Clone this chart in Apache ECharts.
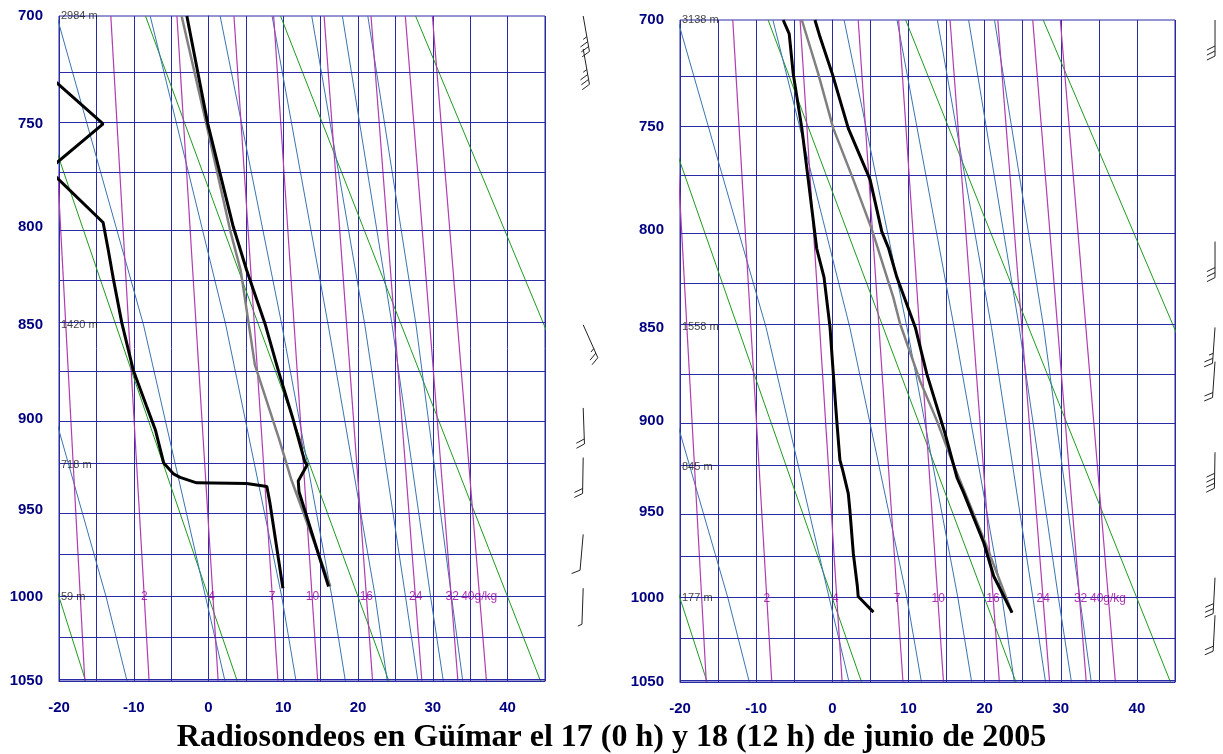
<!DOCTYPE html>
<html><head><meta charset="utf-8">
<script src="https://cdn.jsdelivr.net/npm/echarts@6/dist/echarts.min.js"></script>
<style>html,body{margin:0;padding:0;background:#fff}#c{width:1223px;height:754px}</style>
</head><body><div id="c"></div>
<script>
// ---------------- DATA ----------------
const PRESSURE_LABELS = [700, 750, 800, 850, 900, 950, 1000, 1050];
const PRESSURE_LINES = [700, 725, 750, 775, 800, 825, 850, 875, 900, 925, 950, 975, 1000, 1025, 1050];

// dry adiabats (green): temperature at 700 hPa and at 1050 hPa
const DRY_T700  = [-44.55, -26.49, -8.43, 9.63, 27.69, 45.75];
const DRY_T1050 = [-16.44, 3.84, 24.12, 44.40, 64.68, 84.96];

// moist adiabats (blue): temperatures at the pressures below
const MOIST_P = [700, 850, 1000, 1050];
const MOIST_T = [
  [-36.5, -24.0, -13.7, -10.9],
  [-20.3, -8.7, -0.4, 2.2],
  [-7.8, 2.3, 9.8, 11.7],
  [1.55, 9.8, 16.5, 18.3],
  [8.5, 16.0, 22.3, 23.9],
  [13.8, 20.9, 26.35, 28.0],
  [17.9, 24.55, 29.7, 31.4],
  [21.3, 27.75, 32.5, 34.0]
];

// mixing-ratio lines (magenta), g/kg
const MIX_RATIO = [1, 2, 4, 7, 10, 16, 24, 32, 40];
const MIX_T700  = [-21.30, -13.07, -4.23, 3.40, 8.71, 15.46, 21.73, 26.32, 29.94];
const MIX_T1050 = [-16.55, -7.95, 1.29, 9.28, 14.60, 21.94, 28.53, 33.35, 37.17];
const MIX_LABELS   = ['2', '4', '7', '10', '16', '24', '32', '40g/kg'];
const MIX_LABEL_T  = [-8.6, 0.4, 8.5, 13.9, 21.1, 27.7, 32.6, 36.2];
const MIX_LABEL_P  = 1000;

// ---- Left sounding: 17 June 2005, 00 h ----
const L_TEMP_P = [700, 750, 800, 822, 850, 875, 900, 923.6, 925, 934, 940, 994];
const L_TEMP   = [-2.9, -0.1, 3.3, 5.1, 7.6, 9.4, 11.3, 12.9, 13.2, 12.0, 12.1, 16.05];
const L_DEW_P  = [700, 750, 772, 798, 812, 827, 849, 874, 893, 906, 924, 930, 932, 935, 935.4, 937, 946, 995];
const L_DEW    = [-30.4, -14.1, -21.4, -14.1, -13.4, -12.7, -11.6, -10.05, -8.3, -7.1, -6.0, -4.7, -3.8, -1.6, 5.1, 7.8, 8.2, 9.95];
const L_PARCEL_P = [700, 750, 802, 822, 871, 911, 933, 994];
const L_PARCEL   = [-3.6, -0.3, 2.9, 4.3, 6.2, 9.45, 11.05, 16.3];
const L_HEIGHT_P = [700, 850, 925, 1000];
const L_HEIGHT   = ['2984 m', '1420 m', '718 m', '59 m'];
// wind barbs: pressure of staff origin, direction of staff (deg, clockwise from up), speed (kt)
const L_BARB_P   = [700, 715, 850, 894, 921, 964, 995];
const L_BARB_DIR = [170, 170, 156, 178, 181, 185, 182];
const L_BARB_SPD = [35, 35, 25, 20, 20, 10, 5];

// ---- Right sounding: 18 June 2005, 12 h ----
const R_TEMP_P = [700, 707.9, 724.8, 750.5, 775.3, 801, 809.5, 824, 850, 874.4, 906.6, 931.4, 939, 968, 987.2, 1008.5];
const R_TEMP   = [-2.28, -1.6, 0.0, 2.1, 4.96, 6.5, 7.4, 8.47, 10.9, 12.4, 14.8, 16.4, 17.2, 19.9, 21.2, 23.6];
const R_DEW_P  = [700, 706.3, 724.8, 750.5, 775.3, 809.5, 824, 850, 874.4, 899.4, 921.3, 927, 940, 949, 974, 993, 999, 1008.2];
const R_DEW    = [-6.45, -5.66, -5.13, -4.0, -3.16, -2.05, -1.09, -0.3, 0.13, 0.58, 1.0, 1.37, 2.1, 2.3, 2.76, 3.29, 3.4, 5.4];
const R_PARCEL_P = [700, 724.8, 750.5, 775.3, 800, 834.3, 848.1, 878, 899.4, 919.4, 968, 1008.5];
const R_PARCEL   = [-4.0, -1.84, 0.13, 2.76, 5.2, 8.0, 8.9, 11.5, 13.7, 15.5, 20.1, 23.6];
const R_HEIGHT_P = [700, 850, 925, 1000];
const R_HEIGHT   = ['3138 m', '1558 m', '845 m', '177 m'];
const R_BARB_P   = [700, 806, 850, 868, 917, 988, 1010];
const R_BARB_DIR = [180, 180, 184, 184, 181, 183, 183];
const R_BARB_SPD = [30, 30, 25, 20, 40, 30, 20];

const TITLE = 'Radiosondeos en Güímar el 17 (0 h) y 18 (12 h) de junio de 2005';

// ---------------- CHART ----------------
const KAPPA = 0.286;
const sy = p => Math.pow(p, KAPPA);
const NAVY = '#2a2aa4';
const GREEN = '#1f9a1f';
const BLUE = '#3a74b0';
const MAGENTA = '#b03cb0';
const SANS = 'Liberation Sans, Arial, sans-serif';

const PANELS = [
  { grid: { left: 59, top: 16, width: 486, height: 665 }, barbGrid: { left: 555, top: 16, width: 60, height: 665 }, barbX: 0.47,
    temp: [L_TEMP_P, L_TEMP], dew: [L_DEW_P, L_DEW], parcel: [L_PARCEL_P, L_PARCEL], hp: L_HEIGHT_P, h: L_HEIGHT,
    barb: [L_BARB_P, L_BARB_DIR, L_BARB_SPD] },
  { grid: { left: 680, top: 20, width: 495, height: 662 }, barbGrid: { left: 1185, top: 20, width: 38, height: 662 }, barbX: 0.79,
    temp: [R_TEMP_P, R_TEMP], dew: [R_DEW_P, R_DEW], parcel: [R_PARCEL_P, R_PARCEL], hp: R_HEIGHT_P, h: R_HEIGHT,
    barb: [R_BARB_P, R_BARB_DIR, R_BARB_SPD] }
];

const grids = [], xAxes = [], yAxes = [], series = [];

function lineSeries(gi, pts, color, width, z) {
  series.push({ type: 'line', xAxisIndex: gi, yAxisIndex: gi, data: pts, symbol: 'none', silent: true,
    clip: true, z: z, lineStyle: { color: color, width: width }, animation: false });
}

function renderBarb(params, api) {
  const pt = api.coord([api.value(0), api.value(1)]);
  const d = api.value(2) * Math.PI / 180, spd = api.value(3);
  const L = 36, F = 9, gap = 5;
  const ux = Math.sin(d), uy = -Math.cos(d);
  const nx = -uy, ny = ux;
  const ex = pt[0] + L * ux, ey = pt[1] + L * uy;
  const style = { stroke: '#222', lineWidth: 1 };
  const children = [{ type: 'line', shape: { x1: pt[0], y1: pt[1], x2: ex, y2: ey }, style }];
  let full = Math.floor(spd / 10), half = (spd % 10) >= 5 ? 1 : 0, i = 0;
  for (; i < full; i++) {
    const bx = ex - i * gap * ux, by = ey - i * gap * uy;
    children.push({ type: 'line', shape: { x1: bx, y1: by, x2: bx + F * (0.45 * ux + 0.9 * nx), y2: by + F * (0.45 * uy + 0.9 * ny) }, style });
  }
  if (half) {
    const bx = ex - i * gap * ux, by = ey - i * gap * uy;
    children.push({ type: 'line', shape: { x1: bx, y1: by, x2: bx + F * 0.5 * (0.45 * ux + 0.9 * nx), y2: by + F * 0.5 * (0.45 * uy + 0.9 * ny) }, style });
  }
  return { type: 'group', children };
}

PANELS.forEach((P, k) => {
  const gi = k;
  grids.push(Object.assign({ show: true, borderColor: NAVY, borderWidth: 1, backgroundColor: 'transparent' }, P.grid));
  xAxes.push({ gridIndex: gi, type: 'value', min: -20, max: 45, interval: 5,
    axisLine: { show: true, lineStyle: { color: NAVY } }, axisTick: { show: false },
    axisLabel: { color: '#000080', fontSize: 15, fontWeight: 'bold', fontFamily: SANS, margin: 19,
      formatter: v => (v % 10 === 0 ? String(v) : '') },
    splitLine: { show: true, lineStyle: { color: NAVY, width: 1 } } });
  yAxes.push({ gridIndex: gi, type: 'value', min: sy(700), max: sy(1050), inverse: true,
    axisLine: { show: true, lineStyle: { color: NAVY } }, axisTick: { show: false },
    axisLabel: { color: '#000080', fontSize: 15, fontWeight: 'bold', fontFamily: SANS, margin: 16,
      customValues: PRESSURE_LABELS.map(sy),
      formatter: v => String(Math.round(Math.pow(v, 1 / KAPPA))) },
    splitLine: { show: false } });

  // horizontal isobars
  series.push({ type: 'line', xAxisIndex: gi, yAxisIndex: gi, data: [[-20, sy(700)]], symbol: 'none', silent: true, z: 1,
    lineStyle: { opacity: 0 }, animation: false,
    markLine: { silent: true, symbol: 'none', label: { show: false }, animation: false,
      lineStyle: { color: NAVY, width: 1, type: 'solid' },
      data: PRESSURE_LINES.map(p => ({ yAxis: sy(p) })) } });

  // dry adiabats
  DRY_T700.forEach((t, i) => lineSeries(gi, [[t, sy(700)], [DRY_T1050[i], sy(1050)]], GREEN, 1, 2));
  // moist adiabats
  MOIST_T.forEach(row => lineSeries(gi, row.map((t, j) => [t, sy(MOIST_P[j])]), BLUE, 1, 2));
  // mixing ratio
  MIX_RATIO.forEach((w, i) => lineSeries(gi, [[MIX_T700[i], sy(700)], [MIX_T1050[i], sy(1050)]], MAGENTA, 1.2, 3));
  // soundings
  lineSeries(gi, P.parcel[0].map((p, i) => [P.parcel[1][i], sy(p)]), '#808080', 2.5, 5);
  lineSeries(gi, P.dew[0].map((p, i) => [P.dew[1][i], sy(p)]), '#000', 3, 6);
  lineSeries(gi, P.temp[0].map((p, i) => [P.temp[1][i], sy(p)]), '#000', 3, 6);

  // mixing ratio labels
  series.push({ type: 'scatter', xAxisIndex: gi, yAxisIndex: gi, symbolSize: 0, silent: true, z: 7, animation: false,
    data: MIX_LABELS.map((s, i) => ({ name: s, value: [MIX_LABEL_T[i], sy(MIX_LABEL_P)] })),
    label: { show: true, position: 'inside', formatter: p => p.name, color: '#a000a0', fontSize: 12, fontFamily: SANS,
      align: 'center', verticalAlign: 'middle' } });
  // height labels
  series.push({ type: 'scatter', xAxisIndex: gi, yAxisIndex: gi, symbolSize: 0, silent: true, z: 7, animation: false,
    data: P.h.map((s, i) => ({ name: s, value: [-20, sy(P.hp[i])] })),
    label: { show: true, position: 'right', distance: 2, formatter: p => p.name, color: '#111', fontSize: 11, fontFamily: SANS } });
});

// barb grids
PANELS.forEach((P, k) => {
  const gi = 2 + k;
  grids.push(Object.assign({ show: false }, P.barbGrid));
  xAxes.push({ gridIndex: gi, type: 'value', min: 0, max: 1, show: false });
  yAxes.push({ gridIndex: gi, type: 'value', min: sy(700), max: sy(1050), inverse: true, show: false });
  series.push({ type: 'custom', xAxisIndex: gi, yAxisIndex: gi, silent: true, clip: false, animation: false,
    renderItem: renderBarb,
    data: P.barb[0].map((p, i) => [P.barbX, sy(p), P.barb[1][i], P.barb[2][i]]) });
});

const chart = echarts.init(document.getElementById('c'), null, { renderer: 'canvas' });
chart.setOption({
  animation: false,
  backgroundColor: '#fff',
  title: { text: TITLE, left: 'center', top: 717,
    textStyle: { fontFamily: 'Liberation Serif, Times New Roman, serif', fontWeight: 'bold', fontSize: 32, color: '#000' } },
  grid: grids, xAxis: xAxes, yAxis: yAxes, series: series
});
</script></body></html>
